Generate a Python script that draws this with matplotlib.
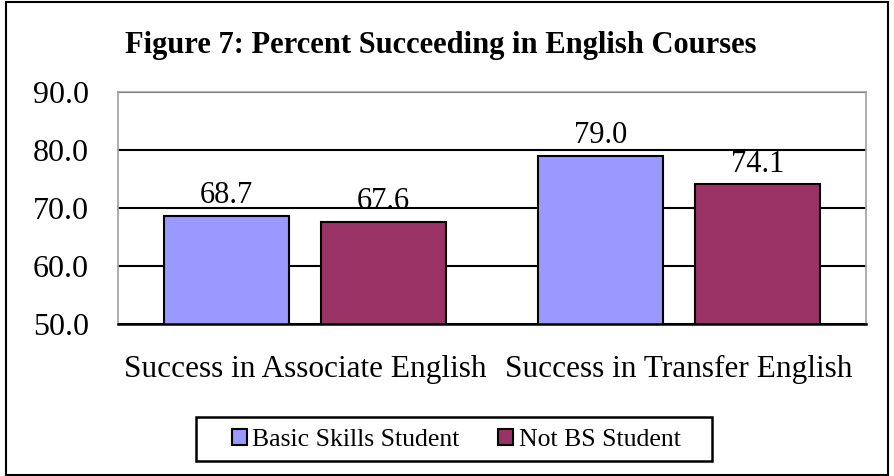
import matplotlib
matplotlib.use("Agg")
import matplotlib.pyplot as plt
import numpy as np

categories = ["Success in Associate English", "Success in Transfer English"]
basic_skills = [68.7, 79.0]
not_bs = [67.6, 74.1]
series_names = ["Basic Skills Student", "Not BS Student"]
yticks = [50.0, 60.0, 70.0, 80.0, 90.0]

plt.rcParams["font.family"] = ["Liberation Serif", "DejaVu Serif"]

fig = plt.figure(figsize=(8.94, 4.76), dpi=100)
ax = fig.add_axes([118 / 894, 152 / 476, 748 / 894, 232 / 476])

x = np.arange(len(categories))
w = 0.334
off = 0.21
b1 = ax.bar(x - off, basic_skills, w, color="#9999FF", edgecolor="black",
            lw=1.5, label=series_names[0], zorder=3)
b2 = ax.bar(x + off, not_bs, w, color="#993366", edgecolor="black",
            lw=1.5, label=series_names[1], zorder=3)

for bars, vals in [(b1, basic_skills), (b2, not_bs)]:
    for rect, v in zip(bars, vals):
        ax.annotate(f"{v:.1f}", xy=(rect.get_x() + rect.get_width() / 2, v),
                    xytext=(0, 4), textcoords="offset points",
                    ha="center", va="bottom", fontsize=22)

ax.set_ylim(50, 90)
ax.set_xlim(-0.5, 1.5)
ax.set_yticks(yticks)
ax.set_yticklabels([f"{t:.1f}" for t in yticks], fontsize=23)
ax.set_xticks(x)
ax.set_xticklabels(categories, fontsize=22.5)
ax.tick_params(axis="y", length=0, pad=21)
ax.tick_params(axis="x", length=0, pad=22)
ax.yaxis.grid(True, color="black", lw=1.5, zorder=1)
for s in ["left", "top", "right"]:
    ax.spines[s].set_color("#a0a0a0")
    ax.spines[s].set_linewidth(1.2)
ax.spines["bottom"].set_color("black")
ax.spines["bottom"].set_linewidth(1.8)
ax.spines["bottom"].set_zorder(4)

fig.text(441 / 894, 1 - 46 / 476, "Figure 7: Percent Succeeding in English Courses",
         ha="center", va="center", fontsize=22, fontweight="bold")

# legend content without frame, box drawn separately (wider than matplotlib pads)
leg = fig.legend(loc="center", bbox_to_anchor=(456 / 894, 1 - 440 / 476), ncol=2,
                 fontsize=18.5, frameon=False,
                 handlelength=0.6, handleheight=0.6, handletextpad=0.2,
                 columnspacing=1.5, borderpad=0.3)
fig.add_artist(plt.Rectangle((196 / 894, 1 - 461 / 476), 516 / 894, 44 / 476,
                             transform=fig.transFigure, fill=False,
                             edgecolor="black", lw=1.8))

fig.add_artist(plt.Rectangle((6 / 894, 0.002), 882 / 894, 0.994, transform=fig.transFigure,
                             fill=False, edgecolor="black", lw=1.5))

plt.savefig("out.png", dpi=100)
